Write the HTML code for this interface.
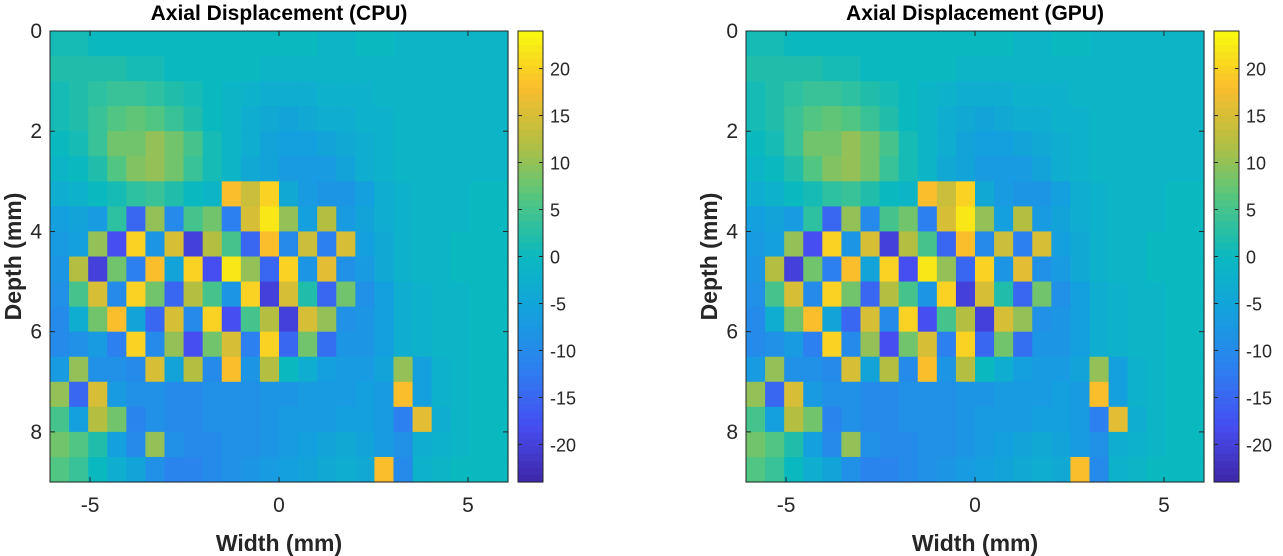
<!DOCTYPE html>
<html><head><meta charset="utf-8"><style>
html,body{margin:0;padding:0;background:#fff;}
svg{display:block;font-family:"Liberation Sans",Arial,sans-serif;}
</style></head><body>
<svg id="fig" width="1283" height="556" viewBox="0 0 1283 556" xmlns="http://www.w3.org/2000/svg"></svg>
<script>
const xTicks=[-5,0,5];
const yTicks=[0,2,4,6,8];
const cTicks=[-20,-15,-10,-5,0,5,10,15,20];
const titles=["Axial Displacement (CPU)","Axial Displacement (GPU)"];
const xMin=-6.06,xMax=6.06,yMin=0,yMax=9,cMin=-24,cMax=24;
const gridRows=[
[1,1,0,0,0,0,0,0,0,0,0,0,0,0,-1,-1,0,0,-1,-1,-1,-1,-1,-1],
[2,2,2,2,1,1,0,0,0,0,0,-1,-1,-1,-1,-1,-1,-1,-1,-1,-1,-1,-1,-1],
[1,2,3,4,4,3,2,1,0,-1,-2,-3,-3,-3,-2,-2,-2,-1,-1,-1,-1,-1,-1,-1],
[1,2,4,6,7,6,4,2,0,-1,-3,-4,-5,-4,-3,-3,-2,-2,-1,-1,-1,-1,-1,-1],
[0,1,4,8,8,10,8,5,1,-1,-3,-5,-6,-6,-5,-4,-3,-2,-1,-1,-1,-1,-1,-1],
[-1,0,2,6,9,10,8,4,1,-1,-4,-5,-7,-7,-7,-5,-3,-2,-1,-1,-1,-1,-1,-1],
[-3,-2,0,1,3,4,2,0,-1,18,14,20,-4,-7,-8,-8,-6,-3,-2,-1,-1,-1,0,0],
[-6,-5,-7,3,-15,10,-10,5,8,-12,15,22,10,-6,12,-7,-5,-3,-2,-1,-1,-1,0,0],
[-7,-6,10,-18,20,-8,15,-20,12,5,-15,18,-10,14,-12,15,-6,-4,-2,-1,-1,0,0,0],
[-8,12,-20,8,-12,18,-5,20,-18,22,10,-15,20,-8,16,-9,-7,-4,-2,-1,-1,0,0,0],
[-9,5,15,-10,20,8,-15,12,5,-8,20,-20,15,2,-15,8,-9,-6,-3,-2,-1,-1,0,0],
[-10,-3,8,18,-5,-15,15,-10,20,-18,5,12,-20,15,10,-9,-8,-6,-3,-2,-1,-1,0,0],
[-10,-9,-7,-12,20,-10,10,-18,8,15,-12,20,-15,8,-14,-8,-8,-6,-3,-2,-1,-1,0,0],
[-7,10,-9,-9,-10,15,-5,12,-10,18,-8,12,0,-3,-6,-7,-7,-5,10,-6,-2,-1,0,0],
[10,-15,15,-7,-9,-9,-10,-10,-9,-9,-9,-8,-8,-7,-7,-7,-6,-7,18,-6,-2,-1,0,0],
[5,-6,12,8,-11,-9,-10,-10,-9,-9,-9,-8,-7,-7,-7,-6,-6,-7,-12,16,-3,-1,0,0],
[8,6,2,-6,-10,10,-9,-10,-10,-9,-9,-8,-7,-6,-5,-4,-5,-7,-9,-3,-2,-1,0,0],
[6,4,0,-3,-5,-9,-11,-11,-10,-9,-8,-7,-6,-5,-4,-3,-4,18,-10,-2,-1,0,0,0]
];
const NS="http://www.w3.org/2000/svg";
const svg=document.getElementById('fig');
const anchors=[[0,62,38,168],[0.125,70,78,242],[0.25,45,128,240],[0.375,20,160,222],[0.5,10,185,192],[0.625,80,198,130],[0.75,180,190,65],[0.875,250,190,45],[1,249,251,14]];
function parula(t){t=Math.max(0,Math.min(1,t));for(let i=1;i<anchors.length;i++){if(t<=anchors[i][0]){const a=anchors[i-1],b=anchors[i];const f=(t-a[0])/(b[0]-a[0]);return `rgb(${Math.round(a[1]+f*(b[1]-a[1]))},${Math.round(a[2]+f*(b[2]-a[2]))},${Math.round(a[3]+f*(b[3]-a[3]))})`;}}return 'rgb(249,251,14)';}
function el(tag,attrs,parent){const e=document.createElementNS(NS,tag);for(const k in attrs)e.setAttribute(k,attrs[k]);(parent||svg).appendChild(e);return e;}
function drawPanel(off,idx){
  const L=50+off,R=508+off,T=31,B=482;
  const sx=v=>L+(v-xMin)/(xMax-xMin)*(R-L);
  const sy=v=>T+(v-yMin)/(yMax-yMin)*(B-T);
  const g=el('g',{});
  
  
  const nR=gridRows.length,nC=gridRows[0].length;
  const dx=(xMax-xMin)/nC,dy=(yMax-yMin)/nR;
  for(let r=0;r<nR;r++)for(let c=0;c<nC;c++){
    const x0=sx(xMin+c*dx),x1=sx(xMin+(c+1)*dx),y0=sy(yMin+r*dy),y1=sy(yMin+(r+1)*dy);
    const rc=el('rect',{x:x0,y:y0,width:x1-x0+0.6,height:y1-y0+0.6,fill:parula((gridRows[r][c]-cMin)/(cMax-cMin))},g);
    
    
  }
  const fr=el('rect',{x:L,y:T,width:R-L,height:B-T,fill:'none',stroke:'#262626','stroke-width':1},g);
  
  
  xTicks.forEach(v=>{const x=sx(v);
    el('line',{x1:x,x2:x,y1:B,y2:B-5,stroke:'#262626'},g);el('line',{x1:x,x2:x,y1:T,y2:T+5,stroke:'#262626'},g);
    const t=el('text',{x:x,y:B+30,'text-anchor':'middle','font-size':21,fill:'#262626'},g);t.textContent=v;
    });
  yTicks.forEach(v=>{const y=sy(v);
    el('line',{x1:L,x2:L+5,y1:y,y2:y,stroke:'#262626'},g);el('line',{x1:R,x2:R-5,y1:y,y2:y,stroke:'#262626'},g);
    const t=el('text',{x:L-8,y:y+7,'text-anchor':'end','font-size':21,fill:'#262626'},g);t.textContent=v;
    });
  const ti=el('text',{x:(L+R)/2,y:20,'text-anchor':'middle','font-size':21,'font-weight':'bold',fill:'#000'},g);ti.textContent=titles[idx];
  
  const xl=el('text',{x:(L+R)/2,y:551,'text-anchor':'middle','font-size':23,'font-weight':'bold',fill:'#262626'},g);xl.textContent='Width (mm)';
  
  const yl=el('text',{x:0,y:0,'text-anchor':'middle','font-size':23,'font-weight':'bold',fill:'#262626',transform:`translate(${L-29},${(T+B)/2}) rotate(-90)`},g);yl.textContent='Depth (mm)';
  
  const CL=518+off,CR=543+off;
  const cb=el('g',{},g);
  
  const nS=64;
  for(let i=0;i<nS;i++){const y0=T+(B-T)*i/nS;
    el('rect',{x:CL,y:y0,width:CR-CL,height:(B-T)/nS+0.6,fill:parula(1-(i+0.5)/nS)},cb);}
  el('rect',{x:CL,y:T,width:CR-CL,height:B-T,fill:'none',stroke:'#262626'},cb);
  const cy=v=>B-(v-cMin)/(cMax-cMin)*(B-T);
  cTicks.forEach(v=>{const y=cy(v);
    el('line',{x1:CL,x2:CL+4,y1:y,y2:y,stroke:'#262626'},cb);el('line',{x1:CR,x2:CR-4,y1:y,y2:y,stroke:'#262626'},cb);
    const t=el('text',{x:CR+7,y:y+7,'font-size':18,fill:'#262626'},cb);t.textContent=v;
    });
}
drawPanel(0,0);
drawPanel(696,1);
</script>
</body></html>
